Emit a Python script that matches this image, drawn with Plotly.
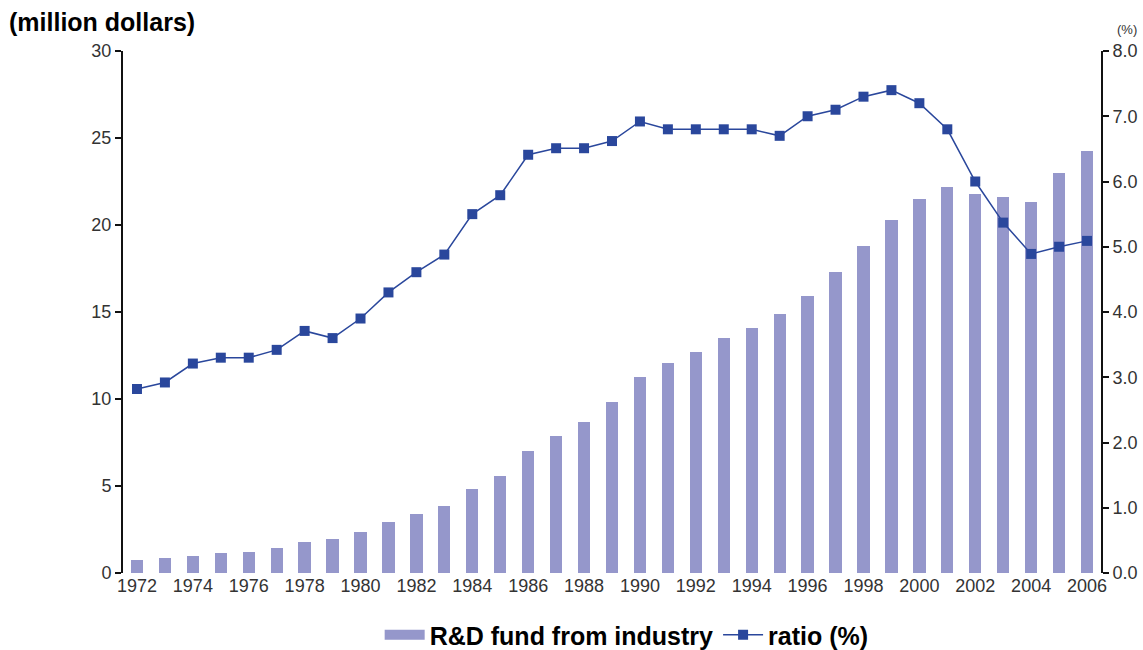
import plotly.graph_objects as go

years = list(range(1972, 2007))
rd_fund = [0.75, 0.88, 0.98, 1.13, 1.23, 1.46, 1.77, 1.94, 2.36, 2.95, 3.37, 3.87,
           4.8, 5.6, 7.0, 7.85, 8.65, 9.85, 11.25, 12.05, 12.7, 13.5, 14.1, 14.9,
           15.9, 17.3, 18.8, 20.3, 21.5, 22.2, 21.8, 21.6, 21.35, 22.97, 24.25]
ratio = [2.82, 2.92, 3.21, 3.30, 3.30, 3.42, 3.71, 3.60, 3.90, 4.30, 4.61, 4.88,
         5.50, 5.79, 6.41, 6.51, 6.51, 6.62, 6.92, 6.80, 6.80, 6.80, 6.80, 6.70,
         7.00, 7.10, 7.30, 7.40, 7.20, 6.80, 6.00, 5.37, 4.89, 5.00, 5.09]
x_ticks = list(range(1972, 2007, 2))
left_ticks = [0, 5, 10, 15, 20, 25, 30]
right_ticks = [0, 1, 2, 3, 4, 5, 6, 7, 8]

BAR = "#9597cb"
LINE = "#2a479c"
BOLD_FONT = "Liberation Sans, Arial, sans-serif"
TICK_FONT = dict(family="Liberation Sans, Arial, sans-serif", size=18, color="#333")

fig = go.Figure()
fig.add_trace(go.Bar(x=years, y=rd_fund, marker=dict(color=BAR, line_width=0),
                     width=0.44, showlegend=False, name="R&D fund from industry"))
# legend proxy for bar series (wide swatch)
fig.add_trace(go.Scatter(x=[None], y=[None], mode="lines", line=dict(color=BAR, width=12),
                         name="<b>R&D fund from industry</b>"))
fig.add_trace(go.Scatter(x=years, y=ratio, yaxis="y2", mode="lines+markers",
                         line=dict(color=LINE, width=1.5),
                         marker=dict(symbol="square", size=10, color=LINE),
                         name="<b>ratio (%)</b>"))

fig.update_layout(
    width=1143, height=650,
    margin=dict(l=123, r=42, t=51, b=77, autoexpand=False),
    paper_bgcolor="white", plot_bgcolor="white",
    bargap=0,
    xaxis=dict(range=[1971.5, 2006.5], tickvals=x_ticks, showgrid=False, zeroline=False,
               showline=False, ticks="", tickfont=TICK_FONT),
    yaxis=dict(range=[0, 30], tickvals=left_ticks, showgrid=False, zeroline=False,
               showline=True, linecolor="#111", linewidth=2, ticks="outside",
               ticklen=6, tickwidth=2, tickcolor="#111", tickfont=TICK_FONT),
    yaxis2=dict(range=[0, 8], tickvals=right_ticks, tickformat=".1f", overlaying="y",
                side="right", showgrid=False, zeroline=False, showline=True,
                linecolor="#111", linewidth=2, ticks="outside", ticklen=6, tickwidth=2,
                tickcolor="#111", tickfont=TICK_FONT),
    legend=dict(orientation="h", x=0.515, xanchor="center", y=-0.119, yanchor="middle",
                font=dict(family=BOLD_FONT, size=25, color="black"),
                itemwidth=40, bgcolor="rgba(0,0,0,0)"),
    annotations=[
        dict(text="<b>(million dollars)</b>", xref="paper", yref="paper",
             x=-116 / 978, y=1 + 45 / 522, xanchor="left", yanchor="top", showarrow=False,
             font=dict(family=BOLD_FONT, size=25, color="black")),
        dict(text="(%)", xref="paper", yref="paper", x=1 + 14 / 978, y=1 + 12 / 522,
             xanchor="left", yanchor="bottom", showarrow=False,
             font=dict(family="Liberation Sans, Arial, sans-serif", size=13, color="#333")),
    ],
)

fig.write_html("out.html", config={"displayModeBar": False},
               post_script="document.body.style.margin='0';")
